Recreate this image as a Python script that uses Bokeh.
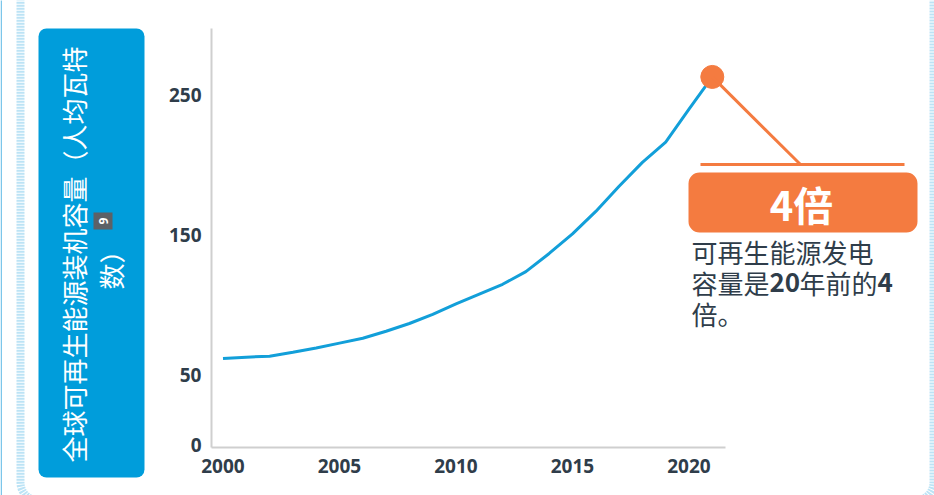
import math
from bokeh.plotting import figure
from bokeh.models import BoxAnnotation, Label, Arrow, FixedTicker, Range1d
from bokeh.embed import file_html
from bokeh.resources import INLINE

# ---- data ----
years = list(range(2000, 2022))
capacity = [62, 63, 63.7, 66.5, 69.5, 73, 76.5, 81.5, 87, 93.5, 101, 108,
            115, 124, 137, 151, 167, 185, 202, 216.5, 240, 263]
x_ticks = [2000, 2005, 2010, 2015, 2020]
y_ticks = [0, 50, 150, 250]
y_title_line1 = "全球可再生能源装机容量（人均瓦特"
y_title_line2 = "数）"
footnote = "9"
callout_big = "4倍"
callout_line1 = "可再生能源发电"
callout_line2_parts = [("容量是", "normal"), ("20", "bold"), ("年前的", "normal"), ("4", "bold")]
callout_line3 = "倍。"

BLUE = "#129fd9"
BOX_BLUE = "#009ddb"
ORANGE = "#f47b40"
DARK = "#2f3d4a"
CJK = "Noto Sans CJK SC"

W, H = 934, 495
# pixel layout of the plotting area (page coords)
X0_PX, X_PER_YEAR = 222.5, 23.3      # where 2000 sits, px per year
Y0_PX, Y_PER_UNIT = 444.9, 1.401     # where 0 sits (from top), px per unit
AX_LEFT, AX_RIGHT, AX_TOP, AX_BOTTOM = 211, 725, 28, 447

def xdata(px):
    return 2000 + (px - X0_PX) / X_PER_YEAR
def ydata(py):
    return (Y0_PX - py) / Y_PER_UNIT

p = figure(width=W, height=H, output_backend="svg", toolbar_location=None,
           x_range=Range1d(xdata(0), xdata(W)), y_range=Range1d(ydata(H), ydata(0)),
           min_border=0, min_border_left=0, min_border_right=0,
           min_border_top=0, min_border_bottom=0)
p.outline_line_color = None
p.grid.visible = False
p.background_fill_color = "white"
p.border_fill_color = "white"

for ax in (p.xaxis[0], p.yaxis[0]):
    ax.axis_line_color = "#cfcfcf"
    ax.axis_line_width = 2
    ax.major_tick_line_color = None
    ax.minor_tick_line_color = None
    ax.major_tick_out = 0
    ax.major_tick_in = 0
    ax.major_label_text_font = "Noto Sans"
    ax.major_label_text_font_style = "bold"
    ax.major_label_text_font_size = "19px"
    ax.major_label_text_color = DARK
p.xaxis.ticker = FixedTicker(ticks=x_ticks)
p.yaxis.ticker = FixedTicker(ticks=y_ticks)
p.xaxis.fixed_location = ydata(AX_BOTTOM)
p.yaxis.fixed_location = xdata(AX_LEFT)
p.xaxis.bounds = (xdata(AX_LEFT), xdata(AX_RIGHT))
p.yaxis.bounds = (ydata(AX_BOTTOM), ydata(AX_TOP))
p.xaxis.major_label_standoff = 11
p.yaxis.major_label_standoff = 10

# screen helpers (frame == whole canvas)
def sx(px):
    return px
def sy(py):
    return H - py

def sbox(l, r, t, b, **kw):
    return BoxAnnotation(left=sx(l), right=sx(r), top=sy(t), bottom=sy(b),
                         left_units="screen", right_units="screen",
                         top_units="screen", bottom_units="screen", **kw)

# thin solid edge line at far left
p.add_layout(sbox(0, 1.5, -5, 500, fill_color="#7cc6ea", fill_alpha=1,
                  line_color=None, level="underlay"))
# outer dashed border
p.add_layout(sbox(20, 933, -30, 500, fill_color=None, line_color="#22a3de",
                  line_width=8, line_dash="2 1", border_radius=18, level="underlay"))

# y title box
p.add_layout(sbox(38, 144, 28, 477, fill_color=BOX_BLUE, fill_alpha=1,
                  line_color=None, border_radius=8))
p.add_layout(Label(x=sx(73), y=sy(254), x_units="screen", y_units="screen",
                   text=y_title_line1, angle=math.pi / 2, text_align="center",
                   text_baseline="middle", text_font=CJK, text_font_size="26px",
                   text_color="white"))
p.add_layout(Label(x=sx(110), y=sy(263), x_units="screen", y_units="screen",
                   text=y_title_line2, angle=math.pi / 2, text_align="center",
                   text_baseline="middle", text_font=CJK, text_font_size="26px",
                   text_color="white"))
p.add_layout(sbox(93, 112, 212, 229, fill_color="#5d6166", fill_alpha=1, line_color=None))
p.add_layout(Label(x=sx(102.5), y=sy(220.5), x_units="screen", y_units="screen",
                   text=footnote, angle=math.pi / 2, text_align="center",
                   text_baseline="middle", text_font="Noto Sans", text_font_style="bold",
                   text_font_size="12px", text_color="white"))

# data
p.line(years, capacity, line_width=3, line_color=BLUE)

# callout
p.add_layout(Arrow(end=None, x_start=years[-1], y_start=capacity[-1], start_units="data",
                   x_end=sx(800), y_end=sy(164), end_units="screen",
                   line_color=ORANGE, line_width=3))
p.add_layout(Arrow(end=None, x_start=sx(700), y_start=sy(164), start_units="screen",
                   x_end=sx(904), y_end=sy(164), end_units="screen",
                   line_color=ORANGE, line_width=3))
p.scatter(years[-1:], capacity[-1:], size=23, fill_color=ORANGE, line_color=ORANGE)
p.add_layout(sbox(688, 917, 172, 232, fill_color=ORANGE, fill_alpha=1,
                  line_color=None, border_radius=11))
p.add_layout(Label(x=sx(801), y=sy(203), x_units="screen", y_units="screen",
                   text=callout_big, text_align="center", text_baseline="middle",
                   text_font=CJK, text_font_style="bold", text_font_size="40px",
                   text_color="white"))

p.add_layout(Label(x=sx(691), y=sy(251), x_units="screen", y_units="screen",
                   text=callout_line1, text_align="left", text_baseline="middle",
                   text_font=CJK, text_font_size="26px", text_color=DARK))
cx = 691
widths = {"容量是": 78, "20": 30, "年前的": 78, "4": 15}
for txt, style in callout_line2_parts:
    p.add_layout(Label(x=sx(cx), y=sy(282), x_units="screen", y_units="screen",
                       text=txt, text_align="left", text_baseline="middle",
                       text_font=CJK, text_font_style=style, text_font_size="26px",
                       text_color=DARK))
    cx += widths[txt]
p.add_layout(Label(x=sx(691), y=sy(313), x_units="screen", y_units="screen",
                   text=callout_line3, text_align="left", text_baseline="middle",
                   text_font=CJK, text_font_size="26px", text_color=DARK))

open("out.html", "w").write(file_html(p, INLINE))
